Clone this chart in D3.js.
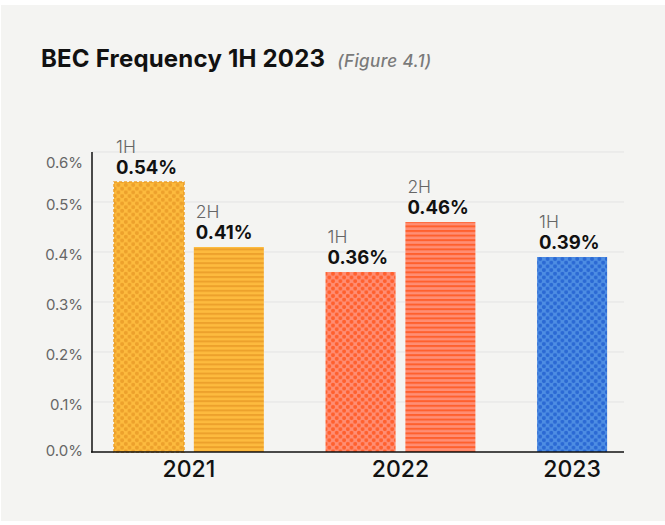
<!DOCTYPE html>
<html>
<head>
<meta charset="utf-8">
<script src="https://cdn.jsdelivr.net/npm/d3@7"></script>
<style>
  html, body { margin: 0; padding: 0; background: #ffffff; }
  svg { display: block; }
</style>
</head>
<body>
<svg id="chart" width="665" height="525"></svg>
<script>
// Business email compromise frequency by half-year
const years = ["2021", "2022", "2023"];
const barYears = ["2021", "2021", "2022", "2022", "2023"];
const periods = ["1H", "2H", "1H", "2H", "1H"];
const values = [0.54, 0.41, 0.36, 0.46, 0.39];      // percent
const fills = ["dots", "stripes", "dots", "stripes", "dots"];
const yTicks = [0, 0.1, 0.2, 0.3, 0.4, 0.5, 0.6];
const yTickLabels = ["0.0%", "0.1%", "0.2%", "0.3%", "0.4%", "0.5%", "0.6%"];

// colour pairs per year: [base, pattern]
const yearColors = {
  "2021": ["#fdbb3e", "#eda12c"],
  "2022": ["#ff8e74", "#ff602e"],
  "2023": ["#4e8ee3", "#2b69d4"]
};

const FONT = "Inter, 'Noto Sans', sans-serif";
const svg = d3.select("#chart");

// panel background
svg.append("rect").attr("x", 1).attr("y", 5).attr("width", 664).attr("height", 516)
  .attr("fill", "#f4f4f2");

// title
const title = svg.append("text").attr("x", 41).attr("y", 67)
  .attr("font-family", FONT).attr("font-size", 24).attr("font-weight", 700)
  .attr("fill", "#111").attr("letter-spacing", 0.2);
title.append("tspan").text("BEC Frequency 1H 2023");
title.append("tspan").attr("dx", 12).attr("font-size", 17).attr("font-weight", 500)
  .attr("font-style", "italic").attr("fill", "#7a7a7a").attr("letter-spacing", 0.4)
  .text("(Figure 4.1)");

// patterns
const defs = svg.append("defs");
years.forEach(yr => {
  const [base, dark] = yearColors[yr];
  const dp = defs.append("pattern").attr("id", "dots-" + yr)
    .attr("patternUnits", "userSpaceOnUse").attr("width", 7.4).attr("height", 7.4);
  dp.append("rect").attr("width", 7.4).attr("height", 7.4).attr("fill", base);
  [[0, 0], [7.4, 0], [0, 7.4], [7.4, 7.4], [3.7, 3.7]].forEach(([cx, cy]) =>
    dp.append("circle").attr("cx", cx).attr("cy", cy).attr("r", 2).attr("fill", dark));
  const sp = defs.append("pattern").attr("id", "stripes-" + yr)
    .attr("patternUnits", "userSpaceOnUse").attr("width", 10).attr("height", 4.6);
  sp.append("rect").attr("width", 10).attr("height", 4.6).attr("fill", base);
  sp.append("rect").attr("y", 0).attr("width", 10).attr("height", 2).attr("fill", dark);
});

// scales
const y = d3.scaleLinear().domain([0, 0.6]).range([452, 152]);
const groupGap = 0.65;
const slot = values.map((v, i) => i + years.indexOf(barYears[i]) * groupGap);
const x = d3.scaleLinear().domain([-0.714, 5.95]).range([92, 624]);
const barW = x(0.877) - x(0);

// gridlines
svg.append("g").selectAll("line").data(yTicks.slice(1)).join("line")
  .attr("x1", 92).attr("x2", 624)
  .attr("y1", d => y(d)).attr("y2", d => y(d))
  .attr("stroke", "#e3e3e3").attr("stroke-width", 1);

// y tick labels
const labelNudge = { 0: -4, 0.6: 8 };
svg.append("g").selectAll("text").data(yTicks).join("text")
  .attr("x", 83).attr("y", d => y(d) + 2 + (labelNudge[d] || 0))
  .attr("dominant-baseline", "central").attr("text-anchor", "end")
  .attr("font-family", FONT).attr("font-size", 15).attr("fill", "#666")
  .text((d, i) => yTickLabels[i]);

// bars
const bars = values.map((v, i) => ({ v, i, year: barYears[i], period: periods[i], fill: fills[i] }));
svg.append("g").selectAll("rect").data(bars).join("rect")
  .attr("x", d => x(slot[d.i]) - barW / 2)
  .attr("width", barW)
  .attr("y", d => y(d.v))
  .attr("height", d => y(0) - y(d.v))
  .attr("fill", d => `url(#${d.fill}-${d.year})`)
  .attr("stroke", d => d.i === 0 ? yearColors[d.year][1] : "none")
  .attr("stroke-width", 1.5)
  .attr("stroke-dasharray", "3,2");

// period and value labels
const lab = svg.append("g").selectAll("g").data(bars).join("g")
  .attr("transform", d => `translate(${x(slot[d.i]) - barW / 2 + 2},${y(d.v)})`);
lab.append("text").attr("y", -29)
  .attr("font-family", FONT).attr("font-size", 17.5).attr("font-weight", 300)
  .attr("fill", "#666").text(d => d.period);
lab.append("text").attr("y", -8)
  .attr("font-family", FONT).attr("font-size", 18.5).attr("font-weight", 700)
  .attr("fill", "#111").text(d => d.v.toFixed(2) + "%");

// axes lines
svg.append("line").attr("x1", 92).attr("x2", 92).attr("y1", y(0.6)).attr("y2", y(0) + 0.5)
  .attr("stroke", "#111").attr("stroke-width", 1.5);
svg.append("line").attr("x1", 91).attr("x2", 624).attr("y1", y(0)).attr("y2", y(0))
  .attr("stroke", "#111").attr("stroke-width", 1.5);

// year labels centred under each group
svg.append("g").selectAll("text").data(years).join("text")
  .attr("x", yr => d3.mean(bars.filter(b => b.year === yr), b => x(slot[b.i])))
  .attr("y", y(0) + 25)
  .attr("text-anchor", "middle")
  .attr("font-family", FONT).attr("font-size", 23).attr("font-weight", 500)
  .attr("fill", "#111").text(d => d);
</script>
</body>
</html>
